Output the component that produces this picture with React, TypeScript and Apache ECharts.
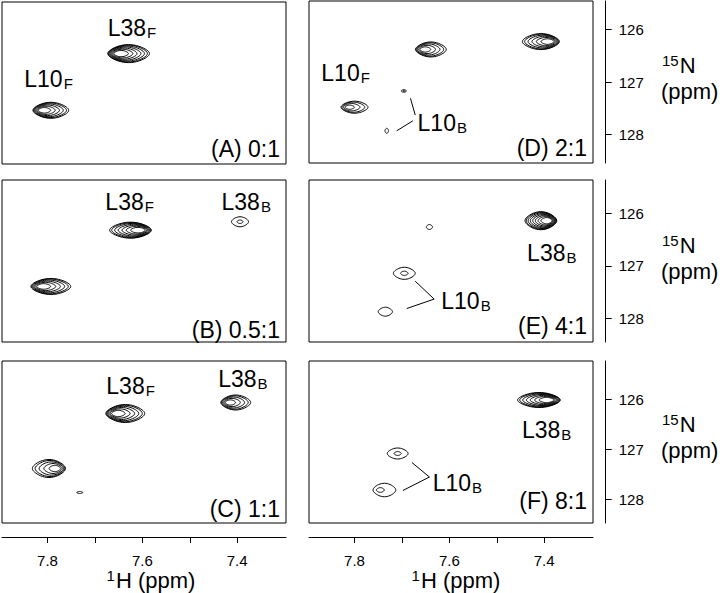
import React, { useEffect, useRef } from 'react';
import * as echarts from 'echarts';

const FONT = '"Liberation Sans", Arial, Helvetica, sans-serif';

// 1H axis (ppm), shown reversed as in NMR spectra
const H_MIN = 7.297;
const H_MAX = 7.896;
const H_TICKS = [7.4, 7.5, 7.6, 7.7, 7.8];
const H_TICK_LABELS = [7.4, 7.6, 7.8];

// 15N axis (ppm) per row of panels
const N_TICKS = [126, 127, 128];
const N_RANGE_ROW1 = [125.457, 128.543];
const N_RANGE_ROW2 = [125.366, 128.446];
const N_RANGE_ROW3 = [125.24, 128.48];

const PANEL_TAGS = ['(A) 0:1', '(B) 0.5:1', '(C) 1:1', '(D) 2:1', '(E) 4:1', '(F) 8:1'];

// peaks: [1H ppm, 15N ppm, 1H linewidth, 15N linewidth, contour levels, skew]
const peaksA = [
  [7.629, 126.44, 0.088, 0.343, 7, 1],
  [7.793, 127.52, 0.0755, 0.305, 6, 1],
];
const peaksB = [
  [7.625, 126.32, 0.088, 0.305, 7, -1],
  [7.394, 126.16, 0.036, 0.19, 2, 0],
  [7.793, 127.39, 0.084, 0.305, 6, 1],
];
const peaksC = [
  [7.636, 126.29, 0.082, 0.36, 6, 1],
  [7.403, 126.07, 0.063, 0.3, 5, 1],
  [7.797, 127.39, 0.07, 0.36, 5, -1],
  [7.732, 127.87, 0.013, 0.04, 1, 0],
];
const peaksD = [
  [7.639, 126.38, 0.065, 0.286, 5, 1],
  [7.407, 126.23, 0.078, 0.305, 6, -1],
  [7.8, 127.48, 0.057, 0.23, 4, 1],
  [7.696, 127.17, 0.011, 0.05, 2, 0],
  [7.732, 127.93, 0.0075, 0.095, 1, 0],
];
const peaksE = [
  [7.407, 126.14, 0.067, 0.343, 8, -1],
  [7.642, 126.26, 0.013, 0.095, 1, 0],
  [7.695, 127.14, 0.046, 0.23, 2, 0],
  [7.735, 127.87, 0.03, 0.17, 1, 0],
];
const peaksF = [
  [7.411, 126.02, 0.09, 0.3, 7, -1],
  [7.709, 127.09, 0.044, 0.22, 2, 0],
  [7.737, 127.82, 0.048, 0.27, 2, 1],
];

// peak labels: [1H ppm (left edge), 15N ppm, name, subscript]
const labelsA = [[7.673, 125.95, 'L38', 'F'], [7.849, 126.93, 'L10', 'F']];
const labelsB = [[7.678, 125.79, 'L38', 'F'], [7.433, 125.78, 'L38', 'B']];
const labelsC = [[7.676, 125.73, 'L38', 'F'], [7.44, 125.59, 'L38', 'B']];
const labelsD = [[7.87, 126.82, 'L10', 'F'], [7.667, 127.79, 'L10', 'B']];
const labelsE = [[7.436, 126.76, 'L38', 'B'], [7.617, 127.66, 'L10', 'B']];
const labelsF = [[7.447, 126.62, 'L38', 'B'], [7.635, 127.68, 'L10', 'B']];

// leader lines: [H1, N1, H2, N2]
const leadersD = [[7.682, 127.31, 7.672, 127.63], [7.711, 127.93, 7.677, 127.74]];
const leadersE = [[7.672, 127.29, 7.632, 127.63], [7.69, 127.81, 7.632, 127.63]];
const leadersF = [[7.679, 127.27, 7.642, 127.56], [7.698, 127.83, 7.642, 127.56]];

const PEAKS = [peaksA, peaksB, peaksC, peaksD, peaksE, peaksF];
const LABELS = [labelsA, labelsB, labelsC, labelsD, labelsE, labelsF];
const LEADERS = [[], [], [], leadersD, leadersE, leadersF];
const N_RANGES = [N_RANGE_ROW1, N_RANGE_ROW2, N_RANGE_ROW3, N_RANGE_ROW1, N_RANGE_ROW2, N_RANGE_ROW3];

// layout
const GRIDS = [
  { left: 2, top: 2, width: 284, height: 162 },
  { left: 2, top: 180, width: 284, height: 162 },
  { left: 2, top: 361, width: 284, height: 162 },
  { left: 309, top: 1, width: 284, height: 162 },
  { left: 309, top: 180, width: 284, height: 162 },
  { left: 309, top: 361, width: 284, height: 162 },
];
const TAG_Y = [149, 330, 509, 148, 326, 501];
const N_TITLE_Y = [[65, 91], [245, 271], [424, 450]];

function renderPeak(params: any, api: any) {
  const c = api.coord([api.value(0), api.value(1)]);
  const sz = api.size([api.value(2), api.value(3)]);
  const a = Math.abs(sz[0]) / 2;
  const b = Math.abs(sz[1]) / 2;
  const n = api.value(4);
  const skew = api.value(5);
  const children: any[] = [];
  for (let i = 0; i < n; i++) {
    const f = n === 1 ? 0 : i / (n - 1);
    const s = 1 - 0.65 * Math.pow(f, 1.3);
    const dx = -skew * (1 - s) * a * 0.55;
    const pts: number[][] = [];
    for (let k = 0; k < 48; k++) {
      const t = (Math.PI * 2 * k) / 48;
      const ct = Math.cos(t);
      const st = Math.sin(t);
      pts.push([c[0] + dx + s * a * ct, c[1] + s * b * st * (1 - 0.25 * ct * ct)]);
    }
    children.push({
      type: 'polygon',
      shape: { points: pts },
      style: { fill: 'none', stroke: '#000', lineWidth: 1 },
    });
  }
  return { type: 'group', children };
}

function renderLeader(params: any, api: any) {
  const p1 = api.coord([api.value(0), api.value(1)]);
  const p2 = api.coord([api.value(2), api.value(3)]);
  return {
    type: 'line',
    shape: { x1: p1[0], y1: p1[1], x2: p2[0], y2: p2[1] },
    style: { stroke: '#000', lineWidth: 1 },
  };
}

function makeLabelRenderer(labels: any[]) {
  return function renderLabel(params: any, api: any) {
    const l = labels[params.dataIndex];
    const p = api.coord([api.value(0), api.value(1)]);
    return {
      type: 'text',
      x: p[0],
      y: p[1],
      style: {
        text: `{a|${l[2]}}{b|${l[3]}}`,
        fill: '#000',
        align: 'left',
        verticalAlign: 'middle',
        rich: {
          a: { fontSize: 23, lineHeight: 24, fontFamily: FONT, fill: '#000', verticalAlign: 'middle' },
          b: { fontSize: 15, lineHeight: 10, fontFamily: FONT, fill: '#000', verticalAlign: 'bottom', padding: [0, 0, 0, 1] },
        },
      },
    };
  };
}

function buildOption() {
  const grid: any[] = [];
  const xAxis: any[] = [];
  const yAxis: any[] = [];
  const series: any[] = [];
  const graphic: any[] = [];

  GRIDS.forEach((g, i) => {
    const isBottom = i === 2 || i === 5;
    const isRight = i >= 3;
    grid.push({ ...g, show: true, borderColor: '#000', borderWidth: 1, backgroundColor: 'transparent' });
    xAxis.push({
      type: 'value',
      gridIndex: i,
      min: H_MIN,
      max: H_MAX,
      inverse: true,
      show: isBottom,
      position: 'bottom',
      offset: 14,
      splitLine: { show: false },
      axisLine: { show: true, onZero: false, lineStyle: { color: '#000', width: 1 } },
      axisTick: { show: true, inside: false, length: 6, customValues: H_TICKS, lineStyle: { color: '#000' } },
      axisLabel: {
        show: true,
        customValues: H_TICK_LABELS,
        formatter: (v: number) => v.toFixed(1),
        color: '#000',
        fontSize: 15,
        fontFamily: FONT,
        margin: 16,
      },
    });
    const nr = N_RANGES[i];
    yAxis.push({
      type: 'value',
      gridIndex: i,
      min: nr[0],
      max: nr[1],
      inverse: true,
      show: isRight,
      position: 'right',
      offset: 12.7,
      splitLine: { show: false },
      axisLine: { show: true, onZero: false, lineStyle: { color: '#000', width: 1 } },
      axisTick: { show: true, inside: false, length: 6, customValues: N_TICKS, lineStyle: { color: '#000' } },
      axisLabel: {
        show: true,
        customValues: N_TICKS,
        formatter: (v: number) => String(Math.round(v)),
        color: '#000',
        fontSize: 15,
        fontFamily: FONT,
        margin: 13,
      },
    });

    series.push({
      type: 'custom',
      xAxisIndex: i,
      yAxisIndex: i,
      renderItem: renderPeak,
      encode: { x: 0, y: 1 },
      data: PEAKS[i],
      silent: true,
      clip: false,
    });
    if (LEADERS[i].length) {
      series.push({
        type: 'custom',
        xAxisIndex: i,
        yAxisIndex: i,
        renderItem: renderLeader,
        encode: { x: [0, 2], y: [1, 3] },
        data: LEADERS[i],
        silent: true,
      });
    }
    series.push({
      type: 'custom',
      xAxisIndex: i,
      yAxisIndex: i,
      renderItem: makeLabelRenderer(LABELS[i]),
      encode: { x: 0, y: 1 },
      data: LABELS[i].map((l: any) => [l[0], l[1]]),
      silent: true,
    });

    graphic.push({
      type: 'text',
      x: g.left + g.width - 6,
      y: TAG_Y[i],
      silent: true,
      style: {
        text: PANEL_TAGS[i],
        fill: '#000',
        font: `23px ${FONT}`,
        align: 'right',
        verticalAlign: 'middle',
        textAlign: 'right',
        textVerticalAlign: 'middle',
      },
    });
  });

  N_TITLE_Y.forEach(([y1, y2]) => {
    graphic.push({
      type: 'text',
      x: 662,
      y: y1,
      silent: true,
      style: {
        text: '{s|15}{n|N}',
        fill: '#000',
        align: 'left',
        verticalAlign: 'middle',
        rich: {
          s: { fontSize: 15, lineHeight: 17, fontFamily: FONT, verticalAlign: 'top', fill: '#000' },
          n: { fontSize: 22, lineHeight: 24, fontFamily: FONT, verticalAlign: 'middle', fill: '#000', padding: [0, 0, 0, 1] },
        },
      },
    });
    graphic.push({
      type: 'text',
      x: 661,
      y: y2,
      silent: true,
      style: {
        text: '(ppm)',
        fill: '#000',
        font: `22px ${FONT}`,
        align: 'left',
        verticalAlign: 'middle',
        textAlign: 'left',
        textVerticalAlign: 'middle',
      },
    });
  });

  [151, 456].forEach((cx) => {
    graphic.push({
      type: 'text',
      x: cx,
      y: 580,
      silent: true,
      style: {
        text: '{s|1}{n|H (ppm)}',
        fill: '#000',
        align: 'center',
        verticalAlign: 'middle',
        rich: {
          s: { fontSize: 15, lineHeight: 17, fontFamily: FONT, verticalAlign: 'top', fill: '#000' },
          n: { fontSize: 22, lineHeight: 24, fontFamily: FONT, verticalAlign: 'middle', fill: '#000', padding: [0, 0, 0, 1] },
        },
      },
    });
  });

  return {
    animation: false,
    backgroundColor: '#fff',
    textStyle: { fontFamily: FONT },
    grid,
    xAxis,
    yAxis,
    series,
    graphic,
  };
}

export default function App() {
  const ref = useRef<HTMLDivElement>(null);
  useEffect(() => {
    if (!ref.current) return;
    const chart = echarts.init(ref.current, null, { renderer: 'svg' });
    chart.setOption(buildOption() as any);
    return () => chart.dispose();
  }, []);
  return (
    <div
      ref={ref}
      style={{ position: 'fixed', left: 0, top: 0, width: 720, height: 593, background: '#fff' }}
    />
  );
}
